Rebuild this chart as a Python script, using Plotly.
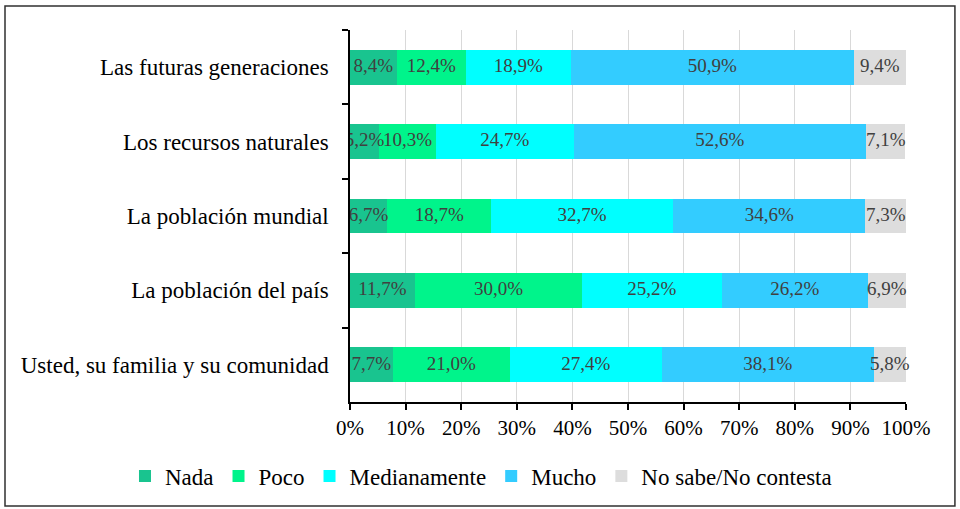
import plotly.graph_objects as go

categories = [
    "Las futuras generaciones",
    "Los recursos naturales",
    "La población mundial",
    "La población del país",
    "Usted, su familia y su comunidad",
]
series_names = ["Nada", "Poco", "Medianamente", "Mucho", "No sabe/No contesta"]
nada = [8.4, 5.2, 6.7, 11.7, 7.7]
poco = [12.4, 10.3, 18.7, 30.0, 21.0]
medianamente = [18.9, 24.7, 32.7, 25.2, 27.4]
mucho = [50.9, 52.6, 34.6, 26.2, 38.1]
no_sabe = [9.4, 7.1, 7.3, 6.9, 5.8]
x_ticks = [0, 10, 20, 30, 40, 50, 60, 70, 80, 90, 100]
x_tick_labels = ["0%", "10%", "20%", "30%", "40%", "50%", "60%", "70%", "80%", "90%", "100%"]

series_values = [nada, poco, medianamente, mucho, no_sabe]
colors = ["#19C48F", "#00F48B", "#00FFFF", "#33CCFF", "#DDDDDD"]

FONT = "Liberation Serif"

def fmt(v):
    return f"{v:.1f}%".replace(".", ",")

fig = go.Figure()
for name, vals, col in zip(series_names, series_values, colors):
    fig.add_trace(go.Bar(
        y=categories, x=vals, name=name, orientation="h",
        marker=dict(color=col, line=dict(width=0)),
        textposition="none", hoverinfo="skip",
    ))

# data labels centred on each segment
base = [0.0] * len(categories)
for name, vals in zip(series_names, series_values):
    mids = [b + v / 2 for b, v in zip(base, vals)]
    fig.add_trace(go.Scatter(
        x=mids, y=categories, mode="text",
        text=[fmt(v) for v in vals], textposition="middle center",
        textfont=dict(family=FONT, size=19, color="#404040"),
        showlegend=False, hoverinfo="skip",
        cliponaxis=(name != "No sabe/No contesta"),
    ))
    base = [b + v for b, v in zip(base, vals)]

fig.update_layout(
    barmode="stack",
    bargap=0.53,
    width=960, height=509,
    margin=dict(l=350, r=54, t=30, b=107),
    paper_bgcolor="white", plot_bgcolor="white",
    font=dict(family=FONT, size=21, color="black"),
    legend=dict(
        orientation="h",
        xanchor="left", x=-0.4047, yanchor="middle", y=-0.199,
        font=dict(family=FONT, size=23, color="black"),
        traceorder="normal",
    ),
    xaxis=dict(
        range=[0, 100], tickvals=x_ticks, ticktext=x_tick_labels,
        showgrid=True, gridcolor="#D9D9D9", gridwidth=1,
        showline=True, linecolor="black", linewidth=1.5,
        ticks="outside", ticklen=6, tickcolor="black", tickwidth=1.5,
        tickfont=dict(family=FONT, size=21, color="black"),
        zeroline=False, fixedrange=True,
    ),
    yaxis=dict(
        categoryorder="array", categoryarray=categories,
        autorange="reversed",
        showline=True, linecolor="black", linewidth=1.5,
        ticks="outside", ticklen=6, tickcolor="black", tickwidth=1.5,
        tickson="boundaries", ticklabelstandoff=15,
        tickfont=dict(family=FONT, size=23, color="black"),
        showgrid=False, fixedrange=True,
    ),
    shapes=[dict(
        type="rect", xref="paper", yref="paper",
        x0=-0.6205, x1=1.088, y0=-0.2796, y1=1.0645,
        line=dict(color="#303030", width=1.5), fillcolor="rgba(0,0,0,0)",
        layer="above",
    )],
)

fig.write_html(
    "out.html",
    config={"displayModeBar": False},
    post_script="document.body.style.margin='0';document.body.style.overflow='hidden';",
)
